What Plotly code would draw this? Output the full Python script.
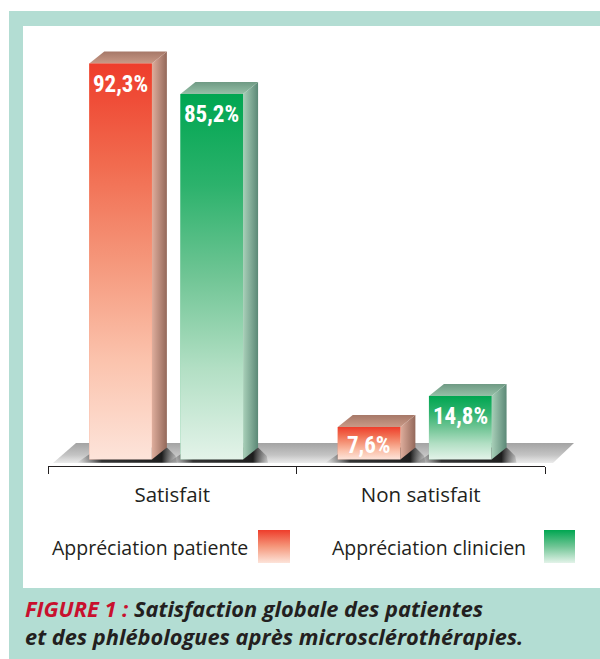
import plotly.graph_objects as go

# ---------------- data ----------------
categories = ["Satisfait", "Non satisfait"]
series_names = ["Appréciation patiente", "Appréciation clinicien"]
patiente = [92.3, 7.6]
clinicien = [85.2, 14.8]
caption_prefix = "FIGURE 1 :"
caption_line1 = "Satisfaction globale des patientes"
caption_line2 = "et des phlébologues après microsclérothérapies."

series_values = [patiente, clinicien]

# ---------------- styles ----------------
W, H = 600, 659
TEAL = "#b3ddd3"
INK = "#231f20"
front_scales = [
    [[0, "#fde4da"], [0.25, "#fbc3ad"], [0.5, "#f5977b"], [0.75, "#f16a4e"], [1, "#ee3d2b"]],
    [[0, "#e3f3e9"], [0.25, "#b2dfc4"], [0.5, "#70c595"], [0.75, "#2cb26c"], [1, "#00a651"]],
]
bar_base = ["#f48a6d", "#5bbf88"]
side_scales = [
    [[0, "#dfae9d"], [1, "#93685a"]],
    [[0, "#a9d0b9"], [1, "#5b8876"]],
]
top_scales = [
    [[0, "#c99986"], [1, "#a67868"]],
    [[0, "#95c0a7"], [1, "#6f9a84"]],
]
offsets = [-0.334, 0.033]   # left edge of front face relative to category centre (x units)
BW = 0.252                  # bar width (x units)
DX = 0.0604                 # depth shift in x units
DY = 2.8                    # depth shift in y units
LABEL_FONT = "Liberation Sans Narrow, Roboto Condensed, DejaVu Sans Condensed, Roboto, sans-serif"
TEXT_FONT = "Open Sans, Noto Sans, sans-serif"
CAPTION_FONT = "Open Sans, Noto Sans, sans-serif"

fig = go.Figure()

# ---------- decoration subplot in pixel space (x/y) ----------
# floor
fig.add_trace(go.Scatter(
    x=[53, 553, 574, 76, 53], y=[463, 463, 443, 443, 463],
    mode="lines", line=dict(width=0), fill="toself",
    fillgradient=dict(type="vertical", start=443, stop=463,
                      colorscale=[[0, "#a3a3a3"], [0.6, "#c4c4c4"], [1, "#ececec"]]),
    xaxis="x", yaxis="y", hoverinfo="skip", showlegend=False))

# legend swatches
sw_x = [(258, 290), (544, 575)]
for s in range(2):
    x0, x1 = sw_x[s]
    fig.add_trace(go.Scatter(
        x=[x0, x1, x1, x0, x0], y=[530, 530, 563, 563, 530],
        mode="lines", line=dict(width=0), fill="toself",
        fillgradient=dict(type="vertical", start=530, stop=563,
                          colorscale=[[0, front_scales[s][-1][1]], [0.5, front_scales[s][2][1]],
                                      [1, front_scales[s][0][1]]]),
        xaxis="x", yaxis="y", hoverinfo="skip", showlegend=False))

# ---------- data subplot (x2/y2) ----------
for s in range(2):
    fig.add_trace(go.Bar(
        x=list(range(len(categories))), y=series_values[s], name=series_names[s],
        offset=offsets[s], width=BW, marker=dict(color=bar_base[s], line=dict(width=0)),
        xaxis="x2", yaxis="y2", hoverinfo="skip", showlegend=False))

# shadows on the floor
for s in range(2):
    for i, v in enumerate(series_values[s]):
        x0 = i + offsets[s]
        x1 = x0 + BW
        fig.add_trace(go.Scatter(
            x=[x0 - 0.05, x1 + DX + 0.04, x1 + DX + 0.035, x1 + DX, x0 + DX - 0.02, x0 - 0.05],
            y=[-0.75, -0.75, DY * 0.3, DY, DY, -0.75],
            mode="lines", line=dict(width=0), fill="toself",
            fillgradient=dict(type="horizontal",
                              colorscale=[[0, "rgba(60,60,60,0.0)"], [0.25, "rgba(20,20,20,0.85)"],
                                          [0.85, "rgba(10,10,10,0.9)"], [1, "rgba(90,90,90,0.2)"]]),
            xaxis="x2", yaxis="y2", hoverinfo="skip", showlegend=False))

# 3D faces
for s in range(2):
    for i, v in enumerate(series_values[s]):
        x0 = i + offsets[s]
        x1 = x0 + BW
        # side face
        fig.add_trace(go.Scatter(
            x=[x1, x1 + DX, x1 + DX, x1, x1], y=[0, DY, v + DY, v, 0],
            mode="lines", line=dict(width=0), fill="toself",
            fillgradient=dict(type="horizontal", colorscale=side_scales[s]),
            xaxis="x2", yaxis="y2", hoverinfo="skip", showlegend=False))
        # top face
        fig.add_trace(go.Scatter(
            x=[x0, x1, x1 + DX, x0 + DX, x0], y=[v, v, v + DY, v + DY, v],
            mode="lines", line=dict(width=0), fill="toself",
            fillgradient=dict(type="vertical", colorscale=top_scales[s]),
            xaxis="x2", yaxis="y2", hoverinfo="skip", showlegend=False))
        # front face gradient
        fig.add_trace(go.Scatter(
            x=[x0, x1, x1, x0, x0], y=[0, 0, v, v, 0],
            mode="lines", line=dict(width=0), fill="toself",
            fillgradient=dict(type="vertical", colorscale=front_scales[s]),
            xaxis="x2", yaxis="y2", hoverinfo="skip", showlegend=False))

annotations = []
for s in range(2):
    for i, v in enumerate(series_values[s]):
        x0 = i + offsets[s]
        annotations.append(dict(
            x=x0 + BW / 2, y=v, xref="x2", yref="y2", yanchor="top", xanchor="center",
            yshift=-5 if v > 10 else -3, showarrow=False,
            text="<b>" + f"{v:.1f}".replace(".", ",") + "%</b>",
            font=dict(family=LABEL_FONT, size=23, color="white")))

# legend texts
legend_text_x = [50, 330]
for s in range(2):
    annotations.append(dict(
        x=legend_text_x[s], y=547, xref="x", yref="y", xanchor="left", yanchor="middle",
        showarrow=False, text=series_names[s],
        font=dict(family=TEXT_FONT, size=19.5, color=INK)))

# caption (one two-line text block)
annotations.append(dict(
    x=23, y=622, xref="x", yref="y", xanchor="left", yanchor="middle", align="left",
    showarrow=False,
    text="<b><i><span style='color:#c8102e'>" + caption_prefix + "</span> " + caption_line1
         + "<br>" + caption_line2 + "</i></b>",
    font=dict(family=CAPTION_FONT, size=21.8, color=INK)))

shapes = [
    dict(type="rect", xref="paper", yref="paper", x0=9 / W, x1=1.01, y0=-0.01, y1=1 - 11 / H,
         fillcolor=TEAL, line=dict(width=0), layer="below"),
    dict(type="rect", xref="paper", yref="paper", x0=23 / W, x1=1.01, y0=1 - 588 / H, y1=1 - 26 / H,
         fillcolor="white", line=dict(width=0), layer="below"),
]

ZERO_PX = 459.5
K = 4.29
fig.update_layout(
    width=W, height=H, margin=dict(l=0, r=0, t=0, b=0),
    paper_bgcolor="white", plot_bgcolor="rgba(0,0,0,0)",
    barmode="overlay", showlegend=False,
    xaxis=dict(domain=[0, 1], range=[0, W], visible=False, fixedrange=True),
    yaxis=dict(domain=[0, 1], range=[H, 0], visible=False, fixedrange=True),
    xaxis2=dict(domain=[48 / W, 545 / W], range=[-0.5, 1.5], anchor="y2",
                showline=True, linecolor=INK, linewidth=1.2, showgrid=False, zeroline=False,
                tickmode="array", tickvals=list(range(len(categories))), ticktext=categories,
                ticks="", ticklabelstandoff=10,
                tickfont=dict(family=TEXT_FONT, size=20.5, color=INK),
                minor=dict(tickmode="array", tickvals=[-0.5, 0.5, 1.5], ticks="outside",
                           ticklen=7, tickwidth=1.2, tickcolor=INK, showgrid=False),
                fixedrange=True),
    yaxis2=dict(domain=[(H - 466) / H, (H - 26) / H], anchor="x2",
                range=[-(466 - ZERO_PX) / K, (ZERO_PX - 26) / K],
                visible=False, showgrid=False, zeroline=False, fixedrange=True),
    annotations=annotations, shapes=shapes,
)

fig.write_html("out.html", config={"displayModeBar": False},
               post_script="document.body.style.margin='0';document.body.style.overflow='hidden';")
